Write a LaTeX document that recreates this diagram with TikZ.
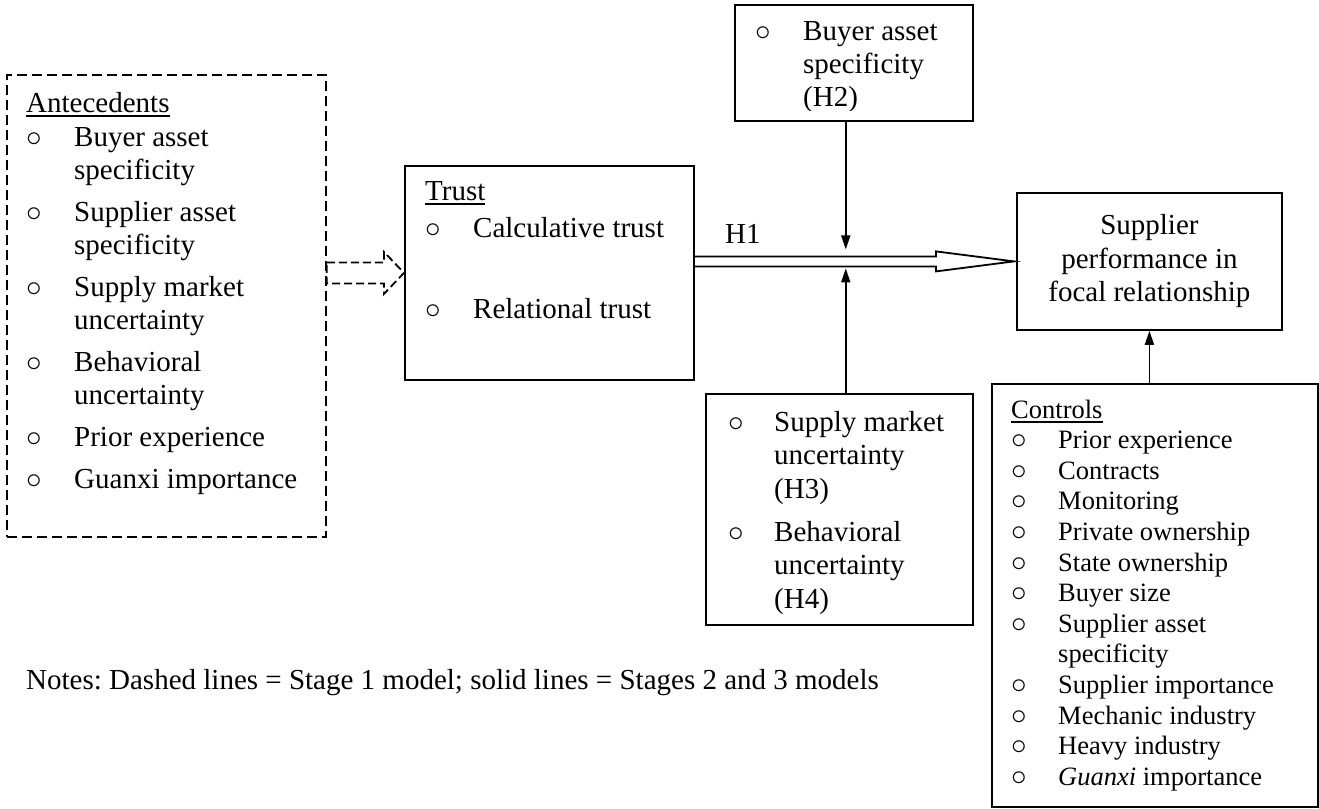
\documentclass[tikz,border=0pt]{standalone}
\usepackage{fontspec}
\setmainfont{Liberation Serif}
\usetikzlibrary{arrows.meta,calc}
\tikzset{
	box/.style={draw, line width=1.8pt, rectangle, anchor=north west, inner sep=0pt},
	dashbox/.style={box, dash pattern=on 10pt off 5pt},
	list/.style={anchor=base west, inner sep=0pt},
	hollow/.style={draw, line width=1.8pt, line join=miter},
	modline/.style={->, line width=1.8pt}
}
\newcommand{\bl}{\scalebox{1.25}{$\circ$}}
\newcommand{\ul}[1]{\setbox0\hbox{#1}\rlap{\rule[-4.5pt]{\wd0}{1.7pt}}\box0}
\newcommand{\listfont}{\fontsize{29}{33}\selectfont}
\newcommand{\ctrlfont}{\fontsize{26.5}{30.6}\selectfont}
\frenchspacing

\begin{document}
\begin{tikzpicture}[x=1pt, y=-1pt, >={Triangle[length=14pt, width=9pt]}]
	\useasboundingbox (0,0) rectangle (1319,808);

	\node[dashbox, minimum width=319pt, minimum height=462pt] (ante) at (6,74) {};
	\node[box, minimum width=289pt, minimum height=214pt] (trust) at (404,165) {};
	\node[box, minimum width=238pt, minimum height=116pt] (buyer) at (734,4) {};
	\node[box, minimum width=267pt, minimum height=231pt] (moder) at (705,393) {};
	\node[box, minimum width=326pt, minimum height=423pt] (ctrl) at (991,383) {};
	\node[box, align=center, minimum width=265pt, minimum height=137pt,
		font=\fontsize{29}{33.5}\selectfont] (perf) at (1016,192)
		{Supplier\\ performance in\\ focal relationship};

	\node[list] (antelist) at (26,112) {\listfont\begin{tabular}[t]{@{}p{48pt}@{}l@{}}
		\multicolumn{2}{@{}l@{}}{\ul{Antecedents}}\\[1pt]
		\bl & Buyer asset\\
		    & specificity\\[9pt]
		\bl & Supplier asset\\
		    & specificity\\[9pt]
		\bl & Supply market\\
		    & uncertainty\\[9pt]
		\bl & Behavioral\\
		    & uncertainty\\[9pt]
		\bl & Prior experience\\[9pt]
		\bl & Guanxi importance
	\end{tabular}};

	\node[list] (trustlist) at (425,200) {\listfont\begin{tabular}[t]{@{}p{48pt}@{}l@{}}
		\multicolumn{2}{@{}l@{}}{\ul{Trust}}\\[4pt]
		\bl & Calculative trust\\[48pt]
		\bl & Relational trust
	\end{tabular}};

	\begin{scope}
		\clip (buyer.north west) rectangle ([yshift=11.5pt]buyer.south east);
		\node[list] (buyerlist) at (755,41) {\listfont\begin{tabular}[t]{@{}p{48pt}@{}l@{}}
			\bl & Buyer asset\\
			    & specificity\\
			    & (H2)
		\end{tabular}};
	\end{scope}

	\node[list] (moderlist) at (728,431) {\fontsize{29}{33.5}\selectfont\begin{tabular}[t]{@{}p{46pt}@{}l@{}}
		\bl & Supply market\\
		    & uncertainty\\
		    & (H3)\\[9.5pt]
		\bl & Behavioral\\
		    & uncertainty\\
		    & (H4)
	\end{tabular}};

	\node[list] (ctrllist) at (1011,418) {\ctrlfont\begin{tabular}[t]{@{}p{47pt}@{}l@{}}
		\multicolumn{2}{@{}l@{}}{\ul{Controls}}\\
		\bl & Prior experience\\
		\bl & Contracts\\
		\bl & Monitoring\\
		\bl & Private ownership\\
		\bl & State ownership\\
		\bl & Buyer size\\
		\bl & Supplier asset\\
		    & specificity\\
		\bl & Supplier importance\\
		\bl & Mechanic industry\\
		\bl & Heavy industry\\
		\bl & \textit{Guanxi} importance
	\end{tabular}};

	\node[list] (hone) at (725,243) {\listfont H1};
	\node[list] (notes) at (26,689) {\listfont Notes: Dashed lines = Stage 1 model; solid lines = Stages 2 and 3 models};

	\draw[hollow, dash pattern=on 8pt off 4pt]
		($(ante.east|-trust.west)+(0,-10.5)$) -- ($(trust.west)+(-20,-10.5)$) -- ($(trust.west)+(-20,-21)$)
		-- (trust.west) -- ($(trust.west)+(-20,21)$) -- ($(trust.west)+(-20,10.5)$)
		-- ($(ante.east|-trust.west)+(0,10.5)$) -- cycle;

	\draw[hollow]
		($(trust.east|-perf.west)+(0,-5)$) -- ($(perf.west)+(-80,-5)$) -- ($(perf.west)+(-80,-10)$)
		-- ([xshift=-2pt]perf.west) -- ($(perf.west)+(-80,10)$) -- ($(perf.west)+(-80,5)$)
		-- ($(trust.east|-perf.west)+(0,5)$);

	\coordinate (hub) at ($(trust.east|-perf.west)!0.47!(perf.west)$);
	\draw[modline] (buyer.south -| hub) -- ([yshift=12pt]hub);
	\draw[modline] (moder.north -| hub) -- ([yshift=-7pt]hub);
	\draw[modline] (perf.south |- ctrl.north) -- (perf.south);
\end{tikzpicture}
\end{document}
